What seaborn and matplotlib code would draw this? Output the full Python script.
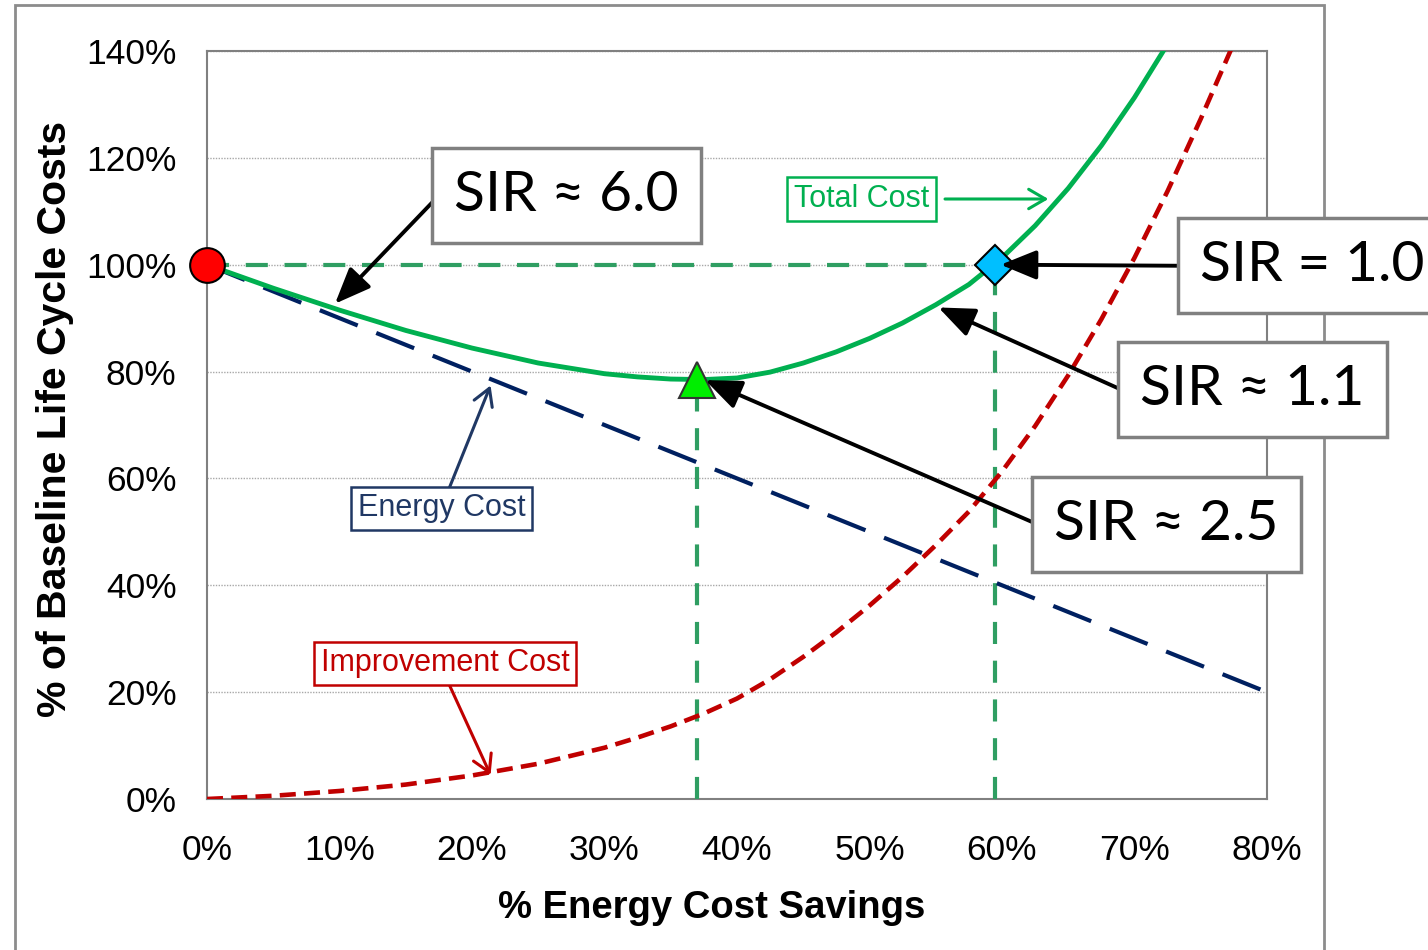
import matplotlib
matplotlib.use("Agg")
import matplotlib.pyplot as plt
import seaborn as sns
import pandas as pd
from matplotlib.patches import Rectangle

# % energy cost savings (x) and the curves (% of baseline)
savings = [0, 5, 10, 15, 20, 25, 30, 32.5, 35, 37.5, 40, 42.5, 45, 47.5, 50, 52.5,
           55, 57.5, 60, 62.5, 65, 67.5, 70, 72.5, 75, 77.5]
improvement_cost = [0, 0.6, 1.5, 2.7, 4.4, 6.6, 9.6, 11.5, 13.6, 16.0, 18.8, 22.4, 26.6, 31.2, 36.2, 41.6,
                    47.5, 53.8, 61.3, 69.8, 79.3, 89.8, 101.3, 113.8, 127.3, 141.5]
total_cost = [100, 95.6, 91.5, 87.7, 84.4, 81.6, 79.6, 79.0, 78.6, 78.5, 78.8, 79.9, 81.6, 83.7, 86.2, 89.1,
              92.5, 96.3, 101.3, 107.3, 114.3, 122.3, 131.3, 141.3, 152.3, 164.0]
energy_x = [0, 80]
energy_cost = [100, 20]

# key points
x_opt, y_opt = 37, 78.5        # minimum total cost (SIR ~ 2.5)
x_even, y_even = 59.5, 100     # break-even (SIR = 1.0)

x_ticks = list(range(0, 81, 10))
y_ticks = list(range(0, 141, 20))

sns.set_style("white")
plt.rcParams["font.family"] = ["Liberation Sans", "DejaVu Sans"]
plt.rcParams["text.color"] = "black"
plt.rcParams["axes.labelcolor"] = "black"

fig = plt.figure(figsize=(14.28, 9.5), dpi=100)
ax = fig.add_axes([207 / 1428, 1 - 799 / 950, 1060 / 1428, 748 / 950])

# outer frame of the picture (drawn underneath the axes)
fig.patches.append(Rectangle((15 / 1428, -0.02), 1309 / 1428, 1.02 - 5 / 950,
                             transform=fig.transFigure, fill=False, zorder=-1,
                             edgecolor="#8c8c8c", linewidth=2))

df_imp = pd.DataFrame({"x": savings, "y": improvement_cost})
df_tot = pd.DataFrame({"x": savings, "y": total_cost})
df_en = pd.DataFrame({"x": energy_x, "y": energy_cost})

green_ref = "#2f9e62"
ax.plot([0, x_even], [y_even, y_even], color=green_ref, lw=3, dashes=(5.3, 4), zorder=3)
ax.plot([x_opt, x_opt], [0, y_opt], color=green_ref, lw=3, dashes=(5.3, 4), zorder=3)
ax.plot([x_even, x_even], [0, y_even], color=green_ref, lw=3, dashes=(5.3, 4), zorder=3)

sns.lineplot(data=df_en, x="x", y="y", ax=ax, color="#002060", lw=3, zorder=4)
ax.lines[-1].set_dashes((9.8, 4.8))
sns.lineplot(data=df_imp, x="x", y="y", ax=ax, color="#c00000", lw=3.3, zorder=4)
ax.lines[-1].set_dashes((3.5, 1.8))
sns.lineplot(data=df_tot, x="x", y="y", ax=ax, color="#00b050", lw=3.5, zorder=5)

ax.plot([0], [100], "o", ms=25, color="#ff0000", mec="black", mew=1.5, zorder=8, clip_on=False)
ax.plot([x_opt], [y_opt], "^", ms=26, color="#00ee00", mec="#333333", mew=1.5, zorder=8)
ax.plot([x_even], [y_even], "D", ms=20, color="#00bfff", mec="black", mew=1.5, zorder=8)

ax.set_xlim(0, 80)
ax.set_ylim(0, 140)
ax.set_xticks(x_ticks)
ax.set_xticklabels([f"{v}%" for v in x_ticks])
ax.set_yticks(y_ticks)
ax.set_yticklabels([f"{v}%" for v in y_ticks])
ax.set_xticks(range(5, 80, 10), minor=True)
ax.set_yticks(range(10, 140, 20), minor=True)
ax.tick_params(which="major", direction="inout", length=14, width=1.3, color="#808080",
               labelcolor="black", labelsize=25.5)
ax.tick_params(axis="x", which="major", pad=18)
ax.tick_params(axis="y", which="major", pad=15)
ax.tick_params(which="minor", direction="in", length=6.5, width=1.3, color="#808080")
ax.grid(axis="y", which="major", linestyle=(0, (1, 1)), color="#a8a8a8", lw=1)
ax.set_axisbelow(True)
for s in ax.spines.values():
    s.set_color("#808080")
    s.set_linewidth(1.5)

ax.set_xlabel("% Energy Cost Savings", fontsize=27.5, fontweight="bold")
ax.set_ylabel("% of Baseline Life Cycle Costs", fontsize=29.5, fontweight="bold")
ax.xaxis.set_label_coords(0.476, -0.122)
ax.yaxis.set_label_coords(-0.125, 0.508)

# SIR call-outs
sir_font = ["Lato", "DejaVu Sans"]
sir_box = dict(boxstyle="square,pad=0.39", fc="white", ec="#808080", lw=2.5)
sir_labels = [
    ("SIR ≈ 6.0", (27.1, 112.9), (17.4, 112.7), (9.66, 92.7)),
    ("SIR = 1.0", (83.4, 99.8), (73.7, 99.8), (59.9, 100)),
    ("SIR ≈ 1.1", (78.9, 76.6), (69.1, 76.5), (55.2, 92.0)),
    ("SIR ≈ 2.5", (72.4, 51.4), (62.5, 51.6), (37.6, 78.4)),
]
for txt, pos, start, tip in sir_labels:
    ax.annotate("", xy=tip, xytext=start, annotation_clip=False, zorder=9,
                arrowprops=dict(arrowstyle="-|>,head_length=1.1,head_width=0.45",
                                color="black", lw=2.8, mutation_scale=20,
                                shrinkA=0, shrinkB=0))
    ax.text(pos[0], pos[1], txt, fontsize=41, family=sir_font, ha="center", va="center",
            bbox=sir_box, zorder=10, clip_on=False)

# series labels
series_labels = [
    ("Total Cost", "#00b050", (49.4, 112.3), (55.7, 112.3), (63.5, 112.3)),
    ("Energy Cost", "#203864", (17.7, 54.4), (18.3, 58.3), (21.4, 77.4)),
    ("Improvement Cost", "#c00000", (17.96, 25.4), (18.3, 21.3), (21.4, 4.5)),
]
for txt, col, pos, start, tip in series_labels:
    ax.annotate("", xy=tip, xytext=start, zorder=9,
                arrowprops=dict(arrowstyle="->,head_length=0.6,head_width=0.35",
                                color=col, lw=2.2, mutation_scale=20,
                                shrinkA=0, shrinkB=0))
    ax.text(pos[0], pos[1], txt, fontsize=22, color=col, ha="center", va="center",
            bbox=dict(boxstyle="square,pad=0.22", fc="white", ec=col, lw=1.8), zorder=10)

fig.savefig("out.png", dpi=100)
